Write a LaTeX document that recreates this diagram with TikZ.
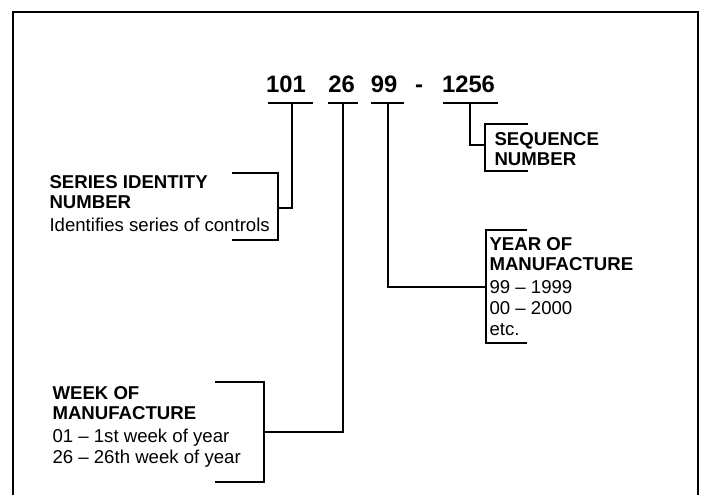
\documentclass[tikz,border=0pt]{standalone}
\usepackage{fontspec}
\setmainfont{Liberation Sans}
\begin{document}
\begin{tikzpicture}[x=0.5pt,y=-0.5pt,line width=0.55pt,
		digits/.style={font=\fontsize{11.9}{14}\selectfont\bfseries,inner sep=0pt,anchor=base},
		label/.style={font=\fontsize{9.3}{10.4}\selectfont,align=left,inner sep=0pt,anchor=north west}]
		\useasboundingbox (0,0) rectangle (704,494);
		\draw[line width=0.7pt] (13,500) -- (13,12) -- (698,12) -- (698,500); % Frame, open at the bottom
		
		\node[digits] (Ser)  at (286,92)   {101};
		\node[digits] (Week) at (341.5,92) {26};
		\node[digits] (Year) at (384,92)   {99};
		\node[digits] (Dash) at (419,92)   {-};
		\node[digits] (Seq)  at (468.5,92) {1256};
		
		% Underlines, and the points the leaders start from
		\draw (268,103) -- (313,103); \coordinate (SerUp)  at (292,103);
		\draw (328,103) -- (358,103); \coordinate (WeekUp) at (343,103);
		\draw (371,103) -- (404,103); \coordinate (YearUp) at (388,103);
		\draw (443,103) -- (498,103); \coordinate (SeqUp)  at (470,103);
		
		% Brackets round the explanations
		\coordinate (SerBr)  at (278,208);
		\coordinate (WeekBr) at (264,432);
		\coordinate (YearBr) at (486,287);
		\coordinate (SeqBr)  at (485,145);
		\draw (232,173) -- (278,173) -- (278,240) -- (232,240);
		\draw (215,382) -- (264,382) -- (264,482) -- (215,482);
		\draw (527,230) -- (486,230) -- (486,343) -- (527,343);
		\draw (528,124) -- (485,124) -- (485,171) -- (528,171);
		
		\node[label] (SerText) at (49,174.6)
		{\textbf{SERIES IDENTITY}\\\textbf{NUMBER}\\[1pt]Identifies series of controls};
		\node[label] (WeekText) at (52,385.6)
		{\textbf{WEEK OF}\\\textbf{MANUFACTURE}\\[1pt]01 -- 1st week of year\\26 -- 26th week of year};
		\node[label] (YearText) at (489,236.6)
		{\textbf{YEAR OF}\\\textbf{MANUFACTURE}\\[1pt]99 -- 1999\\00 -- 2000\\etc.};
		\node[label] (SeqText) at (494,131.6)
		{\textbf{SEQUENCE}\\\textbf{NUMBER}};
		
		% Leaders from the digits down to the brackets
		\draw (SerUp)  |- (SerBr);
		\draw (WeekUp) |- (WeekBr);
		\draw (YearUp) |- (YearBr);
		\draw (SeqUp)  |- (SeqBr);
	\end{tikzpicture}
\end{document}
